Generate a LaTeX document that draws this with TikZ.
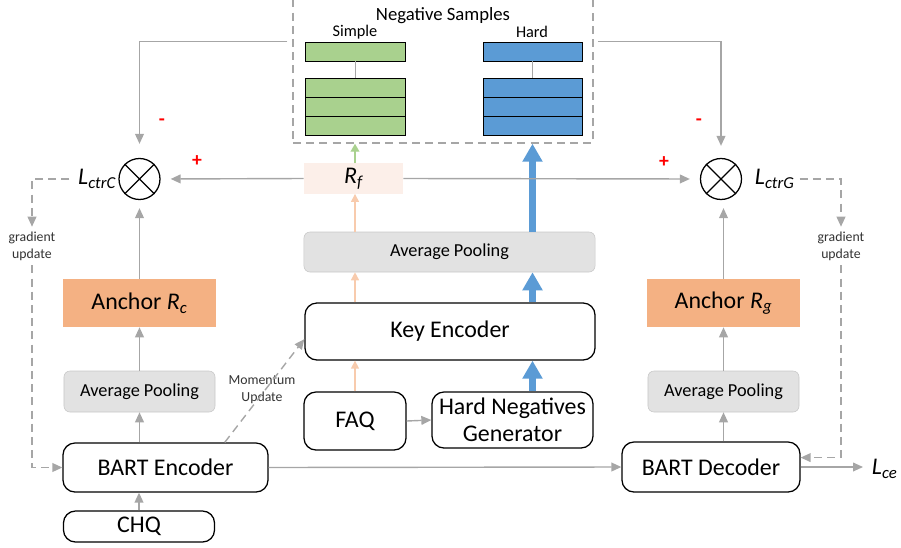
\documentclass[tikz,border=0pt]{standalone}
\usepackage{fontspec}
\setmainfont{Carlito}
\usetikzlibrary{arrows.meta}

\definecolor{arrowgray}{HTML}{A6A6A6}
\definecolor{simplegreen}{HTML}{A9D18E}
\definecolor{hardblue}{HTML}{5B9BD5}
\definecolor{anchororange}{HTML}{F4B183}
\definecolor{poolgray}{HTML}{E2E2E2}
\definecolor{poolline}{HTML}{C8C8C8}
\definecolor{rfpink}{HTML}{FCEFE9}
\definecolor{peach}{HTML}{F8CBAD}
\definecolor{labeltext}{HTML}{333333}

\begin{document}
\begin{tikzpicture}
    [
        x = 0.025cm, y = -0.025cm,
        block/.style = {draw, rounded corners = 0.3cm, line width = 0.9pt, align = center, font = \fontsize{17}{19.5}\selectfont},
        pool/.style = {fill = poolgray, draw = poolline, rounded corners = 0.15cm, font = \fontsize{13}{15}\selectfont},
        anchorbox/.style = {fill = anchororange, font = \fontsize{17}{19.5}\selectfont},
        sumcirc/.style = {draw, circle, line width = 0.9pt, minimum size = 1.025cm, inner sep = 0pt},
        cell/.style = {draw, line width = 0.7pt, minimum width = 2.475cm, minimum height = 0.475cm, inner sep = 0pt},
        loss/.style = {font = \fontsize{17}{19.5}\selectfont\itshape},
        small/.style = {align = center, text = labeltext, font = \fontsize{9.8}{12}\selectfont},
        sign/.style = {text = red, font = \fontsize{14}{14}\selectfont\bfseries},
        flow/.style = {draw = arrowgray, line width = 1pt, -{Triangle[length = 0.25cm, width = 0.22cm]}},
        dashflow/.style = {flow, dash pattern = on 0.2cm off 0.13cm},
        keyflow/.style = {draw = peach, line width = 1pt, -{Triangle[length = 0.2cm, width = 0.2cm]}},
        simpleflow/.style = {draw = simplegreen, line width = 1pt, -{Triangle[length = 0.2cm, width = 0.22cm]}},
        hardflow/.style = {draw = hardblue, line width = 0.17cm, -{Triangle[length = 0.45cm, width = 0.48cm]}}
    ]

    \useasboundingbox (0,0) rectangle (901,547);

    % negative samples
    \node[draw = arrowgray, line width = 1pt, dash pattern = on 0.2cm off 0.13cm,
          minimum width = 7.5cm, minimum height = 3.7cm] (neg) at (443,69) {};
    \node[font = \fontsize{13.3}{15}\selectfont] (negtitle) at (443,16) {Negative Samples};
    \node[font = \fontsize{11.6}{13}\selectfont] (simple) at (355,32) {Simple};
    \node[font = \fontsize{11.6}{13}\selectfont] (hard) at (532,32) {Hard};

    \node[cell, fill = simplegreen] (s0) at (355.5,51.5) {};
    \node[cell, fill = simplegreen] (s1) at (355.5,87.5) {};
    \node[cell, fill = simplegreen] (s2) at (355.5,106.5) {};
    \node[cell, fill = simplegreen] (s3) at (355.5,125.5) {};
    \node[cell, fill = hardblue] (h0) at (532.5,51.5) {};
    \node[cell, fill = hardblue] (h1) at (532.5,87.5) {};
    \node[cell, fill = hardblue] (h2) at (532.5,106.5) {};
    \node[cell, fill = hardblue] (h3) at (532.5,125.5) {};
    \draw[arrowgray, line width = 0.8pt] (s0.south) -- (s1.north);
    \draw[arrowgray, line width = 0.8pt] (h0.south) -- (h1.north);

    % middle column
    \node[fill = rfpink, minimum width = 2.475cm, minimum height = 0.675cm, loss] (rf) at (353.5,178.5) {R\textsubscript{f}};
    \node[pool, minimum width = 7.275cm, minimum height = 1cm] (avgC) at (449.5,252) {Average Pooling};
    \node[block, minimum width = 7.25cm, minimum height = 1.425cm] (key) at (450,331.5) {Key Encoder};
    \node[block, minimum width = 2.55cm, minimum height = 1.45cm] (faq) at (355,421) {FAQ};
    \node[block, minimum width = 4.025cm, minimum height = 1.4cm, inner sep = 1pt] (hng) at (512.5,420) {Hard Negatives\\Generator};

    % left column
    \node[sumcirc] (cC) at (139.5,179) {};
    \node[loss, anchor = east] (lC) at (121,179) {L\textsubscript{ctrC}};
    \node[anchorbox, minimum width = 3.8cm, minimum height = 1.2cm] (ancC) at (139.5,303) {Anchor \textit{R\textsubscript{c}}};
    \node[pool, minimum width = 3.775cm, minimum height = 1.025cm] (avgL) at (139.5,391.5) {Average Pooling};
    \node[block, minimum width = 5.125cm, minimum height = 1.225cm] (enc) at (165.5,467.5) {BART Encoder};
    \node[block, minimum width = 3.775cm, minimum height = 0.775cm] (chq) at (139,526.5) {CHQ};
    \node[small] (gradL) at (32,246) {gradient\\update};
    \node[small] (momentum) at (262,390) {Momentum\\Update};

    % right column
    \node[sumcirc] (cG) at (721,179) {};
    \node[loss, anchor = west] (lG) at (750,179) {L\textsubscript{ctrG}};
    \node[anchorbox, minimum width = 3.8cm, minimum height = 1.2cm] (ancG) at (723.5,303) {Anchor \textit{R\textsubscript{g}}};
    \node[pool, minimum width = 3.775cm, minimum height = 1.025cm] (avgR) at (723.5,391.5) {Average Pooling};
    \node[block, minimum width = 4.45cm, minimum height = 1.25cm] (dec) at (711,467) {BART Decoder};
    \node[loss, anchor = west] (lce) at (867,469) {L\textsubscript{ce}};
    \node[small] (gradR) at (841,246) {gradient\\update};

    % signs
    \node[sign] (minusC) at (162,122) {-};
    \node[sign] (plusC) at (197,161) {+};
    \node[sign] (minusG) at (699,122) {-};
    \node[sign] (plusG) at (664,162) {+};

    % crosses in the circles
    \draw[line width = 0.9pt] (cC.45) -- (cC.225) (cC.135) -- (cC.-45);
    \draw[line width = 0.9pt] (cG.45) -- (cG.225) (cG.135) -- (cG.-45);

    % key encoder flows
    \draw[keyflow] (faq.north) -- (faq.north |- key.south);
    \draw[keyflow] (faq.north |- key.north) -- (faq.north |- avgC.south);
    \draw[keyflow] (faq.north |- avgC.north) -- (faq.north |- rf.south);
    \draw[simpleflow] (faq.north |- rf.north) -- (faq.north |- neg.south);
    \draw[hardflow] (h0 |- hng.north) -- (h0 |- key.south);
    \draw[hardflow] (h0 |- key.north) -- (h0 |- avgC.south);
    \draw[hardflow] (h0 |- avgC.north) -- (h0 |- neg.south);
    \draw[flow] (faq.east) -- (hng.west);

    % contrastive flows
    \draw[flow, shorten > = 0.25cm] (rf.west) -- (cC.east);
    \draw[flow, shorten > = 0.25cm] (rf.east) -- (cG.west);
    \draw[flow, shorten < = 0.12cm, shorten > = 0.35cm] (neg.west |- s0.north) -| (cC.north);
    \draw[flow, shorten < = 0.1cm, shorten > = 0.3cm] (neg.east |- h0.north) -| (cG.north);
    \draw[flow, shorten > = 0.2cm] (ancC.north) -- (ancC.north |- cC.south);
    \draw[flow, shorten > = 0.2cm] (ancG.north) -- (ancG.north |- cG.south);
    \draw[flow] (avgL.north) -- (ancC.south);
    \draw[flow] (avgR.north) -- (ancG.south);
    \draw[flow] (avgL.south |- enc.north) -- (avgL.south);
    \draw[flow] (avgR.south |- dec.north) -- (avgR.south);
    \draw[flow] (chq.north) -- (chq.north |- enc.south);
    \draw[flow] (enc.east) -- (dec.west);
    \draw[flow, shorten > = 0.1cm] (dec.east) -- (dec.east -| lce.west);

    % updates
    \draw[dashflow] (enc.23) -- (key.183);
    \draw[dashflow, shorten < = 0.1cm] (lC.west) -| (gradL.north);
    \draw[dashflow] (gradL.south) |- (enc.west);
    \draw[dashflow] (lG.east) -| (gradR.north);
    \draw[dashflow] (gradR.south) |- (dec.6);
\end{tikzpicture}
\end{document}
